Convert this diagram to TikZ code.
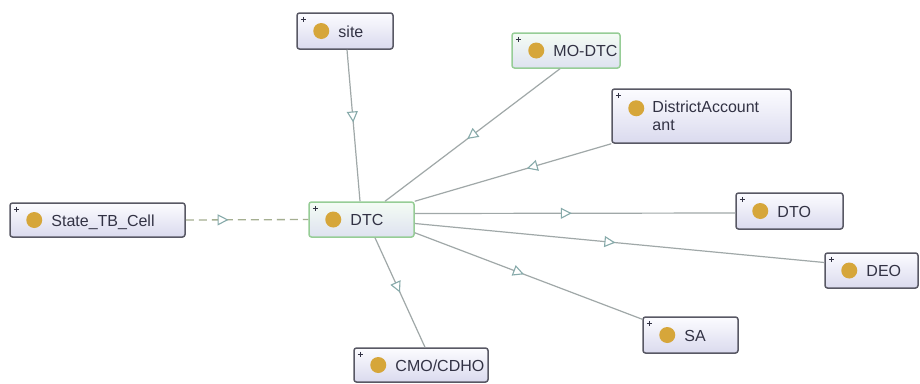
\documentclass[tikz,border=0pt]{standalone}
\usepackage{fontspec}
\newfontfamily\labfont{Liberation Sans}
\usetikzlibrary{calc,arrows.meta,decorations.markings}

\definecolor{boxedge}{RGB}{88,88,100}
\definecolor{greenedge}{RGB}{150,205,150}
\definecolor{boxtop}{RGB}{252,252,255}
\definecolor{boxbot}{RGB}{218,218,238}
\definecolor{greentop}{RGB}{244,252,244}
\definecolor{greenbot}{RGB}{222,226,240}
\definecolor{dotgold}{RGB}{214,166,58}
\definecolor{labgray}{RGB}{50,50,68}
\definecolor{linkgray}{RGB}{160,168,168}
\definecolor{tipteal}{RGB}{135,170,170}
\definecolor{dashgreen}{RGB}{165,175,145}

\tikzset{
  cls/.style={draw=boxedge, line width=1.5pt, rounded corners=2.5pt,
    top color=boxtop, bottom color=boxbot, inner sep=0pt},
  clsgreen/.style={cls, draw=greenedge, top color=greentop, bottom color=greenbot},
  lbl/.style={font=\labfont\fontsize{16}{18}\selectfont, text=labgray, inner sep=0pt},
  plusmark/.style={draw=labgray, line width=0.8pt},
  midtip/.style={postaction={decorate}, decoration={markings,
    mark=at position #1 with {\arrow[draw=tipteal, line width=1.1pt]{Triangle[length=11pt, width=11pt, fill=white]}}}},
  isa/.style={draw=linkgray, line width=1.2pt, midtip=#1},
  isa/.default=0.5,
  equiv/.style={draw=dashgreen, line width=1.3pt, dash pattern=on 8pt off 5pt, midtip=#1},
}

% gold class marker, tiny plus sign and the class name
\newcommand\classdeco[2]{%
  \fill[dotgold] ($(#1.west)+(25,0)$) circle (8pt);
  \draw[plusmark] ($(#1.north west)+(7,7)$) +(-2.5,0) -- +(2.5,0) +(0,-2.5) -- +(0,2.5);
  \node[lbl, anchor=base west] (#1-name) at ($(#1.west)+(42,6)$) {#2};
}

\begin{document}
\begin{tikzpicture}[x=1pt, y=-1pt]
  \useasboundingbox[fill=white] (0,0) rectangle (920,383);

  % class boxes
  \node[cls, minimum width=96pt, minimum height=36pt] (site) at (345,31) {};
  \node[clsgreen, minimum width=108pt, minimum height=35pt] (mo) at (566,50.5) {};
  \node[cls, minimum width=179pt, minimum height=54pt] (da) at (701.5,116) {};
  \node[cls, minimum width=175pt, minimum height=34pt] (state) at (97.5,220) {};
  \node[clsgreen, minimum width=105pt, minimum height=35pt] (dtc) at (361.5,219.5) {};
  \node[cls, minimum width=107pt, minimum height=36pt] (dto) at (789.5,211) {};
  \node[cls, minimum width=93pt, minimum height=35pt] (deo) at (871.5,270.5) {};
  \node[cls, minimum width=134pt, minimum height=34pt] (cmo) at (421,365) {};
  \node[cls, minimum width=95pt, minimum height=36pt] (sa) at (690.5,335) {};

  % connectors
  \draw[isa=0.48] ($(site.south)+(2,0)$) -- ($(dtc.north)+(-1.5,0)$);
  \draw[isa=0.53] ($(mo.south)+(-6,0)$) -- ($(dtc.north)+(23.5,0)$);
  \draw[isa=0.43] (da.south west) -- (dtc.north east);
  \draw[isa=0.49] ($(dtc.east)+(0,-6)$) -- ($(dto.west)+(0,2)$);
  \draw[isa=0.49] ($(dtc.east)+(0,4)$) -- ($(deo.west)+(0,-8)$);
  \draw[isa=0.48] ($(dtc.south east)+(0,-5)$) -- ($(sa.north west)+(0,3)$);
  \draw[isa=0.5] ($(dtc.south)+(13.5,0)$) -- ($(cmo.north)+(4,0)$);
  \draw[equiv=0.35] (state.east) -- (dtc.west);

  % markers and names
  \classdeco{site}{site}
  \classdeco{mo}{MO-DTC}
  \classdeco{state}{State\_TB\_Cell}
  \classdeco{dtc}{DTC}
  \classdeco{dto}{DTO}
  \classdeco{deo}{DEO}
  \classdeco{cmo}{CMO/CDHO}
  \classdeco{sa}{SA}

  % two-line class name
  \fill[dotgold] ($(da.north west)+(25,20)$) circle (8pt);
  \draw[plusmark] ($(da.north west)+(7,7)$) +(-2.5,0) -- +(2.5,0) +(0,-2.5) -- +(0,2.5);
  \node[lbl, anchor=north west, align=left] (da-name) at ($(da.north west)+(41,12)$)
    {DistrictAccount\\ant};
\end{tikzpicture}
\end{document}
